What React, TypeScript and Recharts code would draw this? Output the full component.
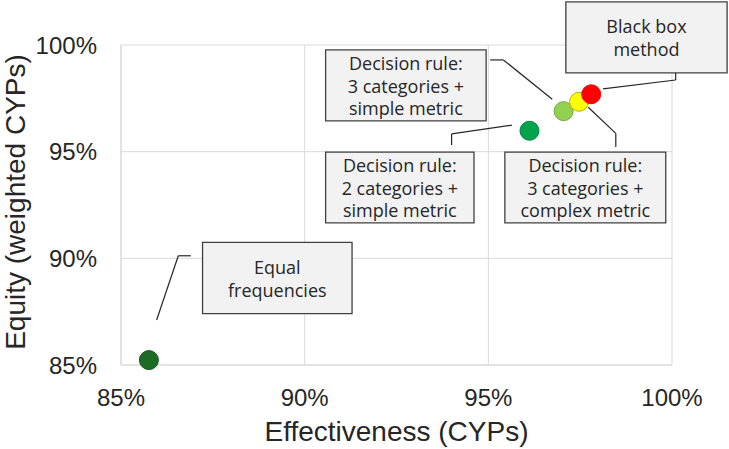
import { CartesianGrid, ReferenceArea, ReferenceLine, Scatter, ScatterChart, XAxis, YAxis } from 'recharts';

// point data (percent)
const methods = [
  'Equal frequencies',
  'Decision rule: 2 categories + simple metric',
  'Decision rule: 3 categories + simple metric',
  'Decision rule: 3 categories + complex metric',
  'Black box method',
];
const effectiveness = [85.76, 96.12, 97.05, 97.47, 97.8];
const equity = [85.23, 95.98, 96.9, 97.34, 97.69];
const fills = ['#1e6b25', '#00a44c', '#92d050', '#ffff00', '#ff0000'];
const strokes = ['#17561d', '#008a3e', '#76a83e', '#b9b200', '#ff0000'];

const ticks = [85, 90, 95, 100];

const points = methods.map((name, i) => ({
  name,
  x: effectiveness[i],
  y: equity[i],
  fill: fills[i],
  stroke: strokes[i],
}));

const TEXT = '#262626';
const GRID = '#d9d9d9';
const BOX_FONT = '"Open Sans", sans-serif';
const AXIS_FONT = '"Liberation Sans", Arial, sans-serif';

function boxLabel(lines: string[]) {
  return (props: any) => {
    const vb = props.viewBox;
    if (!vb) return null;
    const cx = vb.x + vb.width / 2;
    const cy = vb.y + vb.height / 2 + 1;
    const lh = 22.5;
    const top = cy - ((lines.length - 1) * lh) / 2;
    return (
      <text x={cx} textAnchor="middle" fontFamily={BOX_FONT} fontSize={18} fill={TEXT}>
        {lines.map((l, i) => (
          <tspan key={i} x={cx} y={top + i * lh} dy="0.35em">
            {l}
          </tspan>
        ))}
      </text>
    );
  };
}

const boxProps = {
  fill: '#f2f2f2',
  fillOpacity: 1,
  stroke: '#404040',
  strokeWidth: 1.3,
  ifOverflow: 'visible' as const,
};

const lineProps = {
  stroke: '#262626',
  strokeWidth: 1.2,
  ifOverflow: 'visible' as const,
};

export default function App() {
  return (
    <div style={{ position: 'absolute', left: 0, top: 0, width: 729, height: 449, background: '#fff' }}>
      <ScatterChart width={729} height={449} margin={{ top: 45, right: 57, bottom: 0, left: 0 }}>
        <CartesianGrid stroke={GRID} strokeWidth={1} />
        <XAxis
          type="number"
          dataKey="x"
          domain={[85, 100]}
          ticks={ticks}
          tickFormatter={(v) => `${v}%`}
          height={84}
          axisLine={{ stroke: GRID }}
          tickLine={false}
          tickSize={6}
          tickMargin={18}
          tick={{ fontSize: 24, fill: TEXT, fontFamily: AXIS_FONT }}
          label={{
            content: (p: any) => {
              const vb = p.viewBox;
              return (
                <text x={vb.x + vb.width / 2} y={vb.y + 76} textAnchor="middle" fontFamily={AXIS_FONT} fontSize={28} fill={TEXT}>
                  Effectiveness (CYPs)
                </text>
              );
            },
          }}
        />
        <YAxis
          type="number"
          dataKey="y"
          domain={[85, 100]}
          ticks={ticks}
          tickFormatter={(v) => `${v}%`}
          width={121}
          axisLine={{ stroke: GRID }}
          tickLine={false}
          tickSize={6}
          tickMargin={18}
          tick={{ fontSize: 24, fill: TEXT, fontFamily: AXIS_FONT }}
          label={{
            content: (p: any) => {
              const vb = p.viewBox;
              const x = 25;
              const y = vb.y + vb.height / 2 - 3;
              return (
                <text x={x} y={y} transform={`rotate(-90, ${x}, ${y})`} textAnchor="middle" fontFamily={AXIS_FONT} fontSize={28} fill={TEXT}>
                  Equity (weighted CYPs)
                </text>
              );
            },
          }}
        />

        {/* leader lines */}
        <ReferenceLine segment={[{ x: 98.12, y: 97.94 }, { x: 100.1, y: 98.36 }]} {...lineProps} />
        <ReferenceLine segment={[{ x: 100.1, y: 98.36 }, { x: 100.1, y: 98.69 }]} {...lineProps} />
        <ReferenceLine segment={[{ x: 95.05, y: 99.3 }, { x: 95.41, y: 99.3 }]} {...lineProps} />
        <ReferenceLine segment={[{ x: 95.41, y: 99.3 }, { x: 96.74, y: 97.46 }]} {...lineProps} />
        <ReferenceLine segment={[{ x: 95.64, y: 96.24 }, { x: 94.0, y: 95.83 }]} {...lineProps} />
        <ReferenceLine segment={[{ x: 94.0, y: 95.83 }, { x: 94.0, y: 95.31 }]} {...lineProps} />
        <ReferenceLine segment={[{ x: 97.72, y: 97.08 }, { x: 98.47, y: 95.86 }]} {...lineProps} />
        <ReferenceLine segment={[{ x: 98.47, y: 95.86 }, { x: 98.47, y: 95.22 }]} {...lineProps} />
        <ReferenceLine segment={[{ x: 85.97, y: 87.11 }, { x: 86.56, y: 90.12 }]} {...lineProps} />
        <ReferenceLine segment={[{ x: 86.56, y: 90.12 }, { x: 86.9, y: 90.12 }]} {...lineProps} />

        {/* annotation boxes */}
        <ReferenceArea x1={97.11} x2={101.5} y1={98.69} y2={102.02} {...boxProps} label={boxLabel(['Black box', 'method'])} />
        <ReferenceArea x1={90.57} x2={94.94} y1={96.44} y2={99.77} {...boxProps} label={boxLabel(['Decision rule:', '3 categories +', 'simple metric'])} />
        <ReferenceArea x1={90.57} x2={94.61} y1={91.66} y2={94.98} {...boxProps} label={boxLabel(['Decision rule:', '2 categories +', 'simple metric'])} />
        <ReferenceArea x1={95.45} x2={99.83} y1={91.66} y2={94.98} {...boxProps} label={boxLabel(['Decision rule:', '3 categories +', 'complex metric'])} />
        <ReferenceArea x1={87.22} x2={91.29} y1={87.41} y2={90.75} {...boxProps} label={boxLabel(['Equal', 'frequencies'])} />

        <Scatter
          data={points}
          isAnimationActive={false}
          shape={(p: any) => (
            <circle cx={p.cx} cy={p.cy} r={9.5} fill={p.payload.fill} stroke={p.payload.stroke} strokeWidth={1} />
          )}
        />
      </ScatterChart>
    </div>
  );
}
